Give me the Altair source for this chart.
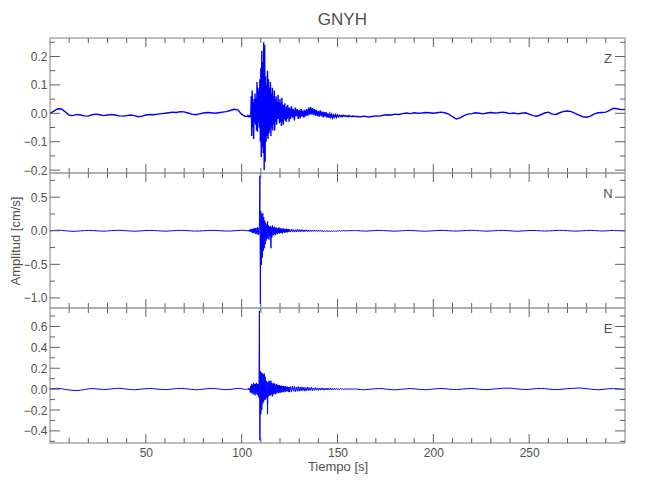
import numpy as np
import pandas as pd
import altair as alt

FONT = "Liberation Sans, Arial, sans-serif"
TXT = "#505050"

# ---- time grids (s) ----
t_pre = np.arange(0, 103, 2.0)        # 52
t_evt = np.arange(103, 125, 0.25)     # 88
t_coda = np.arange(125, 160, 0.5)     # 70
t_post = np.arange(160, 301, 2.0)     # 71

# ---- Z component (cm/s) ----
z_pre = [0.0, 0.008, 0.016, 0.015, 0.005, -0.007, -0.008, -0.004, -0.006, -0.009,
         -0.01, -0.005, -0.003, -0.005, -0.008, -0.006, -0.004, -0.006, -0.009, -0.01,
         -0.008, -0.006, -0.008, -0.012, -0.01, -0.006, -0.004, -0.005, -0.003, -0.001,
         0.0, 0.002, 0.004, 0.003, 0.006, 0.005, 0.001, -0.003, -0.005, -0.002,
         0.001, 0.003, 0.002, 0.0, 0.002, 0.004, 0.006, 0.01, 0.014, 0.012,
         -0.004, -0.011]
z_evt = [-0.01, -0.008, -0.011, -0.009, -0.01, -0.012, -0.008, -0.01,
         0.06, -0.08, 0.08, -0.05, 0.04, -0.09, 0.05, -0.03,
         0.07, -0.04, 0.05, -0.06, 0.11, -0.065, 0.09, -0.03,
         0.08, -0.05, 0.12, -0.1, 0.16, -0.155, 0.22, -0.12,
         0.18, -0.14, 0.25, -0.2, 0.24, -0.17, 0.13, -0.1,
         0.1, -0.08, 0.15, -0.09, 0.12, -0.07, 0.09, -0.06,
         0.11, -0.08, 0.07, -0.05, 0.09, -0.06, 0.06, -0.04,
         0.08, -0.06, 0.05, -0.03, 0.06, -0.04, 0.04, -0.02,
         0.065, -0.02, 0.04, -0.035, 0.05, -0.03, 0.035, -0.045,
         0.055, -0.03, 0.03, -0.04, 0.03, -0.02, 0.035, -0.025,
         0.02, -0.03, 0.025, -0.02, 0.03, -0.015, 0.02, -0.03]
z_coda = [0.02, -0.02, 0.025, -0.015, 0.015, -0.025, 0.02, -0.01, 0.015, -0.02,
          0.012, -0.018, 0.015, -0.012, 0.01, -0.015, 0.012, -0.01, 0.015, -0.008,
          0.02, -0.005, 0.022, -0.004, 0.018, -0.006, 0.015, -0.008, 0.012, -0.01,
          0.008, -0.012, 0.01, -0.01, 0.006, -0.014, 0.005, -0.012, 0.004, -0.015,
          0.0, -0.016, -0.002, -0.014, -0.004, -0.016, -0.006, -0.013, -0.005, -0.014,
          -0.006, -0.012, -0.007, -0.011, -0.008, -0.012, -0.007, -0.01, -0.008, -0.011,
          -0.009, -0.012, -0.008, -0.011, -0.01, -0.012, -0.009, -0.011, -0.01, -0.012]
z_post = [-0.011, -0.012, -0.01, -0.013, -0.011, -0.009, -0.01, -0.007, -0.005, -0.006,
          -0.003, -0.004, -0.001, 0.001, -0.001, 0.002, 0.0, 0.001, 0.003, 0.002,
          0.0, 0.002, 0.004, 0.002, -0.003, -0.012, -0.02, -0.016, -0.008, -0.003,
          -0.001, 0.002, 0.0, -0.002, 0.001, 0.003, 0.001, 0.002, 0.004, 0.002,
          -0.001, 0.001, -0.002, 0.0, 0.002, -0.003, -0.008, -0.01, -0.005, 0.001,
          0.004, -0.003, -0.004, 0.002, 0.007, 0.008, 0.006, 0.0, -0.006, -0.012,
          -0.014, -0.01, -0.002, 0.002, 0.003, 0.004, 0.01, 0.018, 0.016, 0.013,
          0.014]

# ---- N component (cm/s) ----
n_pre = [0.0, 0.004, 0.008, 0.006, 0.0, -0.005, -0.008, -0.006, -0.002, 0.003,
         0.006, 0.004, 0.0, -0.004, -0.006, -0.003, 0.002, 0.005, 0.007, 0.004,
         0.0, -0.004, -0.007, -0.005, -0.001, 0.003, 0.005, 0.003, 0.0, -0.003,
         -0.006, -0.004, 0.0, 0.004, 0.006, 0.004, 0.001, -0.003, -0.005, -0.004,
         0.0, 0.003, 0.006, 0.005, 0.002, -0.002, -0.005, -0.004, 0.0, 0.004,
         0.008, 0.004]
n_evt = [0.0, 0.005, -0.005, 0.01, -0.01, 0.015, -0.01, 0.02,
         -0.02, 0.03, -0.03, 0.025, -0.035, 0.03, -0.025, 0.04,
         -0.04, 0.035, -0.05, 0.04, -0.03, 0.05, -0.06, 0.04,
         -0.05, 0.1, 0.82, -1.09, 0.29, -0.51, 0.25, -0.4,
         0.26, -0.3, 0.2, -0.26, 0.15, -0.2, 0.12, -0.15,
         0.1, -0.12, 0.14, -0.1, 0.08, -0.13, 0.06, -0.08,
         0.07, -0.26, 0.05, -0.1, 0.08, -0.06, 0.05, -0.07,
         0.06, -0.05, 0.04, -0.06, 0.05, -0.04, 0.03, -0.05,
         0.04, -0.03, 0.05, -0.04, 0.03, -0.03, 0.04, -0.03,
         0.03, -0.04, 0.03, -0.02, 0.035, -0.03, 0.02, -0.025,
         0.025, -0.02, 0.03, -0.025, 0.02, -0.02, 0.025, -0.015]
n_coda = [0.02, -0.02, 0.025, -0.015, 0.02, -0.02, 0.015, -0.018, 0.02, -0.015,
          0.015, -0.015, 0.018, -0.012, 0.014, -0.016, 0.012, -0.01, 0.015, -0.012,
          0.01, -0.012, 0.012, -0.01, 0.009, -0.011, 0.01, -0.008, 0.011, -0.01,
          0.008, -0.01, 0.007, -0.012, 0.005, -0.014, 0.004, -0.012, 0.003, -0.01,
          -0.002, -0.01, 0.0, -0.012, -0.003, -0.01, 0.001, -0.008, -0.002, -0.009,
          0.0, -0.006, 0.002, -0.005, 0.001, -0.004, 0.003, -0.003, 0.002, -0.004,
          0.003, -0.002, 0.004, -0.001, 0.005, 0.0, 0.004, -0.001, 0.005, 0.001]
n_post = [0.003, -0.002, -0.005, -0.004, 0.0, 0.004, 0.006, 0.003, -0.001, -0.004,
          -0.006, -0.003, 0.001, 0.004, 0.005, 0.002, -0.002, -0.005, -0.007, -0.004,
          0.0, 0.003, 0.006, 0.004, 0.0, -0.003, -0.005, -0.002, 0.002, 0.005,
          0.007, 0.004, 0.0, -0.004, -0.006, -0.003, 0.001, 0.004, 0.006, 0.003,
          -0.001, -0.005, -0.007, -0.004, 0.0, 0.003, 0.005, 0.002, -0.002, -0.004,
          -0.003, 0.001, 0.004, 0.007, 0.005, 0.001, -0.003, -0.006, -0.004, 0.0,
          0.004, 0.006, 0.003, -0.001, -0.004, -0.002, 0.002, 0.005, 0.004, 0.001,
          0.0]

# ---- E component (cm/s) ----
e_pre = [0.0, 0.005, 0.008, 0.004, -0.003, -0.008, -0.012, -0.014, -0.01, -0.004,
         0.002, 0.005, 0.003, -0.001, -0.004, -0.002, 0.002, 0.006, 0.008, 0.005,
         0.0, -0.004, -0.006, -0.003, 0.001, 0.004, 0.006, 0.004, 0.0, -0.003,
         -0.005, -0.003, 0.001, 0.005, 0.007, 0.005, 0.001, -0.003, -0.006, -0.004,
         0.0, 0.004, 0.007, 0.005, 0.001, -0.003, -0.005, -0.003, 0.002, 0.008,
         0.004, -0.004]
e_evt = [0.0, 0.005, -0.005, 0.008, -0.006, 0.01, -0.03, 0.03,
         -0.04, 0.05, -0.03, 0.04, -0.05, 0.06, -0.04, 0.05,
         -0.06, 0.05, -0.04, 0.06, -0.05, 0.045, -0.06, 0.05,
         -0.08, 0.75, -0.49, 0.17, -0.24, 0.16, -0.2, 0.15,
         -0.14, 0.14, -0.12, 0.15, -0.1, 0.12, -0.1, 0.08,
         -0.08, 0.07, -0.24, 0.06, -0.07, 0.08, -0.06, 0.07,
         -0.06, 0.08, -0.05, 0.06, -0.07, 0.05, -0.05, 0.06,
         -0.04, 0.05, -0.05, 0.04, -0.04, 0.05, -0.03, 0.04,
         -0.04, 0.035, -0.03, 0.04, -0.035, 0.03, -0.03, 0.035,
         -0.03, 0.03, -0.025, 0.03, -0.03, 0.025, -0.02, 0.03,
         -0.025, 0.02, -0.02, 0.025, -0.02, 0.02, -0.025, 0.02]
e_coda = [-0.03, 0.025, -0.025, 0.03, -0.02, 0.025, -0.025, 0.02, -0.02, 0.025,
          -0.02, 0.02, -0.018, 0.022, -0.015, 0.018, -0.02, 0.015, -0.015, 0.02,
          -0.015, 0.015, -0.012, 0.018, -0.014, 0.012, -0.012, 0.015, -0.01, 0.012,
          -0.012, 0.01, -0.01, 0.012, -0.008, 0.01, -0.01, 0.008, -0.008, 0.01,
          -0.008, 0.008, -0.006, 0.01, -0.008, 0.006, -0.007, 0.008, -0.005, 0.007,
          -0.006, 0.005, -0.005, 0.006, -0.004, 0.006, -0.005, 0.004, -0.004, 0.005,
          -0.004, 0.004, -0.003, 0.005, -0.004, 0.003, -0.003, 0.004, -0.002, 0.003]
e_post = [0.0, -0.004, -0.006, -0.003, 0.001, 0.004, 0.006, 0.003, -0.001, -0.005,
          -0.007, -0.004, 0.0, 0.003, 0.005, 0.003, -0.001, -0.004, -0.006, -0.003,
          0.001, 0.004, 0.006, 0.004, 0.0, -0.003, -0.005, -0.002, 0.002, 0.005,
          0.006, 0.003, -0.001, -0.004, -0.005, -0.002, 0.002, 0.005, 0.008, 0.01,
          0.009, 0.006, 0.002, -0.002, -0.004, -0.002, 0.002, 0.005, 0.007, 0.005,
          0.001, -0.003, -0.005, -0.003, 0.001, 0.004, 0.006, 0.009, 0.011, 0.008,
          0.004, 0.0, -0.004, -0.006, -0.003, 0.001, 0.004, 0.005, 0.003, 0.0,
          -0.002]

# ---- axis ticks ----
x_major = [50, 100, 150, 200, 250]
x_minor = [10, 20, 30, 40, 60, 70, 80, 90, 110, 120, 130, 140, 160, 170, 180, 190,
           210, 220, 230, 240, 260, 270, 280, 290]
z_major = [-0.2, -0.1, 0.0, 0.1, 0.2]
z_minor = [-0.15, -0.05, 0.05, 0.15, 0.25]
n_major = [-1.0, -0.5, 0.0, 0.5]
n_minor = [-0.75, -0.25, 0.25, 0.75]
e_major = [-0.4, -0.2, 0.0, 0.2, 0.4, 0.6]
e_minor = [-0.5, -0.3, -0.1, 0.1, 0.3, 0.5, 0.7]

z_dom = [-0.21, 0.265]
n_dom = [-1.15, 0.86]
e_dom = [-0.516, 0.777]

W, H = 575, 135
XMAX = 300


def trace(parts):
    ts = np.concatenate([t_pre, t_evt, t_coda, t_post])
    vs = sum(parts, [])
    n = min(len(ts), len(vs))
    return pd.DataFrame({"t": ts[:n], "v": vs[:n]})


def panel(df, dom, ymaj, ymin, label, bottom, ytitle, sw):
    xscale = alt.Scale(domain=[0, XMAX], nice=False, zero=False)
    yscale = alt.Scale(domain=dom, nice=False, zero=False)
    if bottom:
        xaxis = alt.Axis(values=x_major, ticks=False, domain=False, grid=False,
                         labelPadding=4, labelOverlap=False,
                         title="Tiempo [s]", titlePadding=2)
    else:
        xaxis = None
    if ytitle:
        yaxis = alt.Axis(values=ymaj, format=".1f", ticks=False, domain=False, grid=False,
                         labelPadding=3, labelOverlap=False,
                         title=ytitle, titlePadding=1)
    else:
        yaxis = alt.Axis(values=ymaj, format=".1f", ticks=False, domain=False, grid=False,
                         labelPadding=3, labelOverlap=False, title=None)

    def X(field="t"):
        return alt.X(f"{field}:Q", scale=xscale, axis=xaxis)

    def Y(field="v"):
        return alt.Y(f"{field}:Q", scale=yscale, axis=yaxis)

    line = alt.Chart(df).mark_line(color="#0000ff", strokeWidth=sw, clip=True).encode(
        x=X(), y=Y())
    tc = "#606060"
    ymaj_df = pd.DataFrame({"v": ymaj})
    ymin_df = pd.DataFrame({"v": ymin})
    xmaj_df = pd.DataFrame({"t": x_major})
    xmin_df = pd.DataFrame({"t": x_minor})
    layers = [line]
    for d, ln in ((ymaj_df, 10), (ymin_df, 5)):
        layers.append(alt.Chart(d).mark_rule(color=tc, strokeWidth=1).encode(
            y=Y(), x=alt.value(0), x2=alt.value(ln)))
        layers.append(alt.Chart(d).mark_rule(color=tc, strokeWidth=1).encode(
            y=Y(), x=alt.value(W), x2=alt.value(W - ln)))
    for d, ln in ((xmaj_df, 9), (xmin_df, 5)):
        layers.append(alt.Chart(d).mark_rule(color=tc, strokeWidth=1).encode(
            x=X(), y=alt.value(H), y2=alt.value(H - ln)))
        layers.append(alt.Chart(d).mark_rule(color=tc, strokeWidth=1).encode(
            x=X(), y=alt.value(0), y2=alt.value(ln)))
    layers.append(alt.Chart(pd.DataFrame({"lab": [label]})).mark_text(
        font=FONT, fontSize=13, color=TXT, align="center", baseline="middle").encode(
        x=alt.value(W - 17), y=alt.value(21), text="lab:N"))
    return alt.layer(*layers).properties(width=W, height=H)


pz = panel(trace([z_pre, z_evt, z_coda, z_post]), z_dom, z_major, z_minor, "Z", False, None, 1.4)
pn = panel(trace([n_pre, n_evt, n_coda, n_post]), n_dom, n_major, n_minor, "N", False,
           "Amplitud [cm/s]", 1.0)
pe = panel(trace([e_pre, e_evt, e_coda, e_post]), e_dom, e_major, e_minor, "E", True, None, 1.0)

chart = alt.vconcat(pz, pn, pe, spacing=0).properties(
    title=alt.TitleParams("GNYH", font=FONT, fontSize=17, color=TXT, fontWeight="normal",
                          anchor="middle", offset=8, dx=25),
    padding={"left": 0, "top": 2, "right": 10, "bottom": 5},
    bounds="flush",
).configure_view(
    stroke="#aaaaaa", strokeWidth=1.5
).configure_axis(
    labelFont=FONT, labelFontSize=12, labelColor=TXT,
    titleFont=FONT, titleFontSize=13, titleColor=TXT, titleFontWeight="normal",
).configure_concat(spacing=0)

chart.save("out.html", embed_options={"renderer": "svg", "actions": False})
